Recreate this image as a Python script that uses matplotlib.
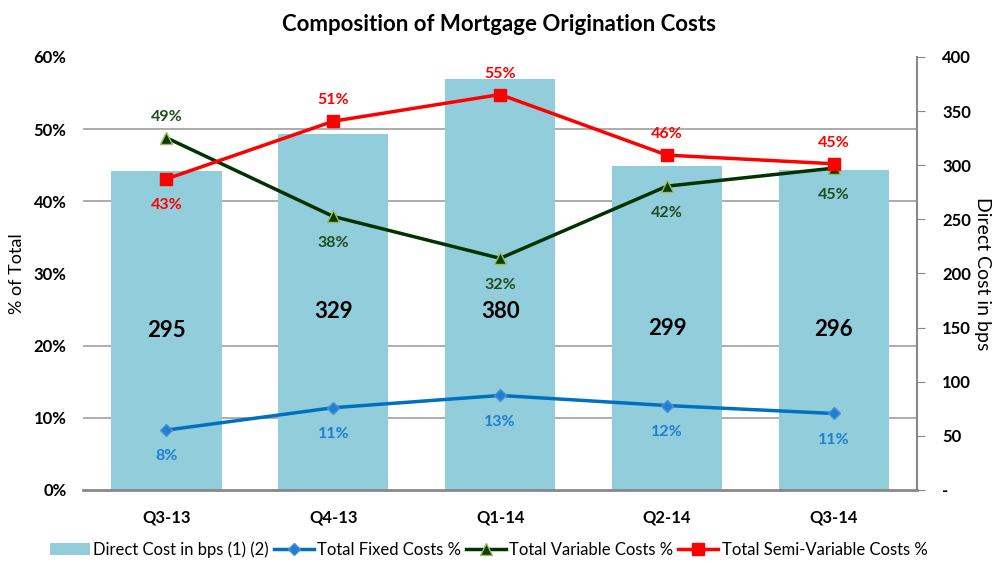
import matplotlib.pyplot as plt
import numpy as np
from matplotlib.ticker import FuncFormatter

plt.rcParams['font.family'] = ['Lato', 'DejaVu Sans']

# Data
quarters = ['Q3-13', 'Q4-13', 'Q1-14', 'Q2-14', 'Q3-14']
direct_cost_bps = [295, 329, 380, 299, 296]
fixed_pct = [8.3, 11.4, 13.1, 11.7, 10.6]
variable_pct = [48.8, 37.9, 32.1, 42.1, 44.6]
semi_variable_pct = [43.1, 51.1, 54.8, 46.4, 45.2]

fixed_labels = ['8%', '11%', '13%', '12%', '11%']
variable_labels = ['49%', '38%', '32%', '42%', '45%']
semi_labels = ['43%', '51%', '55%', '46%', '45%']

x = np.arange(len(quarters))

fig = plt.figure(figsize=(9.97, 5.63), dpi=100)
ax_bar = fig.add_axes([0.0833, 0.1297, 0.8367, 0.7691])
ax_pct = ax_bar.twinx()

# Bars (right axis)
bars = ax_bar.bar(x, direct_cost_bps, width=0.66, color='#92CDDC',
                  label='Direct Cost in bps (1) (2)', zorder=2)
ax_bar.set_xlim(-0.5, len(quarters) - 0.5)
ax_bar.set_ylim(0, 400)
ax_bar.set_yticks(np.arange(0, 401, 50))
ax_bar.yaxis.tick_right()
ax_bar.yaxis.set_label_position('right')
ax_bar.yaxis.set_major_formatter(FuncFormatter(lambda v, p: '-' if v == 0 else f'{int(v)}'))
ax_bar.tick_params(axis='y', length=6, color='#888888', labelsize=12, pad=12)
for lab in ax_bar.get_yticklabels():
    lab.set_fontweight('bold')
ax_bar.set_ylabel('Direct Cost in bps', fontsize=14, rotation=-90, labelpad=14)

# gridlines follow the left (%) scale, drawn behind the bars
ax_bar.set_yticks(np.linspace(0, 400, 7), minor=True)
ax_bar.tick_params(axis='y', which='minor', length=0)
ax_bar.grid(True, which='minor', axis='y', color='#9E9E9E', linewidth=1.2)
ax_bar.set_axisbelow(True)

for b, v in zip(bars, direct_cost_bps):
    ax_bar.text(b.get_x() + b.get_width() / 2, min(v / 2, 165), str(v), ha='center', va='center',
                fontsize=16, fontweight='bold', color='black')

ax_bar.set_xticks(x)
ax_bar.set_xticklabels(quarters, fontsize=12, fontweight='bold')
ax_bar.tick_params(axis='x', length=0, pad=14)

for s in ['top', 'left']:
    ax_bar.spines[s].set_visible(False)
ax_bar.spines['right'].set_color('#888888')
ax_bar.spines['right'].set_linewidth(1.5)
ax_bar.spines['bottom'].set_color('#888888')
ax_bar.spines['bottom'].set_linewidth(2)

# Lines (left axis)
ax_pct.yaxis.tick_left()
ax_pct.yaxis.set_label_position('left')
ax_pct.set_ylim(0, 60)
ax_pct.set_yticks(np.arange(0, 61, 10))
ax_pct.yaxis.set_major_formatter(FuncFormatter(lambda v, p: f'{int(v)}%'))
ax_pct.tick_params(axis='y', length=0, labelsize=12, pad=12)
for lab in ax_pct.get_yticklabels():
    lab.set_fontweight('bold')
ax_pct.set_ylabel('% of Total', fontsize=13, labelpad=6)
for s in ax_pct.spines.values():
    s.set_visible(False)

ax_pct.plot(x, fixed_pct, color='#0070C0', linewidth=2.5, marker='D', markersize=6,
            markerfacecolor='#1F7FD0', markeredgecolor='#4A90D8', label='Total Fixed Costs %')
ax_pct.plot(x, variable_pct, color='#003300', linewidth=2.5, marker='^', markersize=9,
            markerfacecolor='#0B3D0B', markeredgecolor='#9BBB59', label='Total Variable Costs %')
ax_pct.plot(x, semi_variable_pct, color='#FF0000', linewidth=2.5, marker='s', markersize=9,
            markerfacecolor='#FF0000', markeredgecolor='#FF0000', label='Total Semi-Variable Costs %')

above, below = 15, -19
for i in range(len(x)):
    ax_pct.annotate(fixed_labels[i], (x[i], fixed_pct[i]), xytext=(0, below),
                    textcoords='offset points', ha='center', va='center',
                    fontsize=11.5, fontweight='bold', color='#1F7FD0')
    dy = above if i == 0 else below
    ax_pct.annotate(variable_labels[i], (x[i], variable_pct[i]), xytext=(0, dy),
                    textcoords='offset points', ha='center', va='center',
                    fontsize=11.5, fontweight='bold', color='#1E4D1E')
    dy = below if i == 0 else above
    ax_pct.annotate(semi_labels[i], (x[i], semi_variable_pct[i]), xytext=(0, dy),
                    textcoords='offset points', ha='center', va='center',
                    fontsize=11.5, fontweight='bold', color='#FF0000')

fig.suptitle('Composition of Mortgage Origination Costs', fontsize=16, fontweight='bold', y=0.975)

h1, l1 = ax_bar.get_legend_handles_labels()
h2, l2 = ax_pct.get_legend_handles_labels()
fig.legend(h1 + h2, l1 + l2, loc='lower center', bbox_to_anchor=(0.49, -0.018), ncol=4,
           frameon=False, fontsize=12, handlelength=2.4, handletextpad=0.2,
           columnspacing=0.3)

fig.savefig('out.png', dpi=100)
